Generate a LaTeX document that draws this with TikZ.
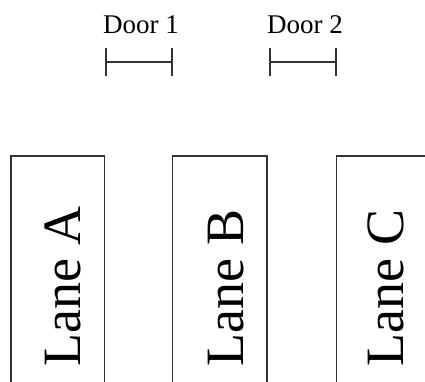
\documentclass[tikz,border=0pt]{standalone}
\usepackage{fontspec}
\setmainfont{Liberation Serif}
\usetikzlibrary{arrows.meta}
\begin{document}
\begin{tikzpicture}[x=1pt,y=-1pt,
  lanebox/.style={line width=1.8pt,draw=black!80},
  lanelabel/.style={rotate=90,anchor=base west,inner sep=0pt,
    font=\fontsize{54}{54}\selectfont},
  doorlabel/.style={anchor=base west,inner sep=0pt,
    font=\fontsize{27}{27}\selectfont},
  doorspan/.style={line width=2.2pt,draw=black!80,
    {Bar[width=28pt,line width=2.2pt]}-{Bar[width=28pt,line width=2.2pt]}}]
  \useasboundingbox (0,0) rectangle (425,381);
  \clip (0,0) rectangle (425,381);

  % lanes: open-bottomed boxes running off the lower edge
  \draw[lanebox] (11,400) -- (11,156) -- (104.5,156) -- (104.5,400);
  \draw[lanebox] (172.5,400) -- (172.5,156) -- (267,156) -- (267,400);
  \draw[lanebox] (336.5,400) -- (336.5,156) -- (440,156) -- (440,400);

  \node[lanelabel] (laneA) at (80,367) {Lane A};
  \node[lanelabel] (laneB) at (243,367) {Lane B};
  \node[lanelabel] (laneC) at (403,367) {Lane C};

  % doors between neighbouring lanes
  \node[doorlabel] (door1) at (103,33) {Door 1};
  \node[doorlabel] (door2) at (267,33) {Door 2};

  \coordinate (d1l) at (105,62);
  \coordinate (d1r) at (173,62);
  \coordinate (d2l) at (269,62);
  \coordinate (d2r) at (337,62);
  \draw[doorspan] (d1l) -- (d1r);
  \draw[doorspan] (d2l) -- (d2r);
\end{tikzpicture}
\end{document}
